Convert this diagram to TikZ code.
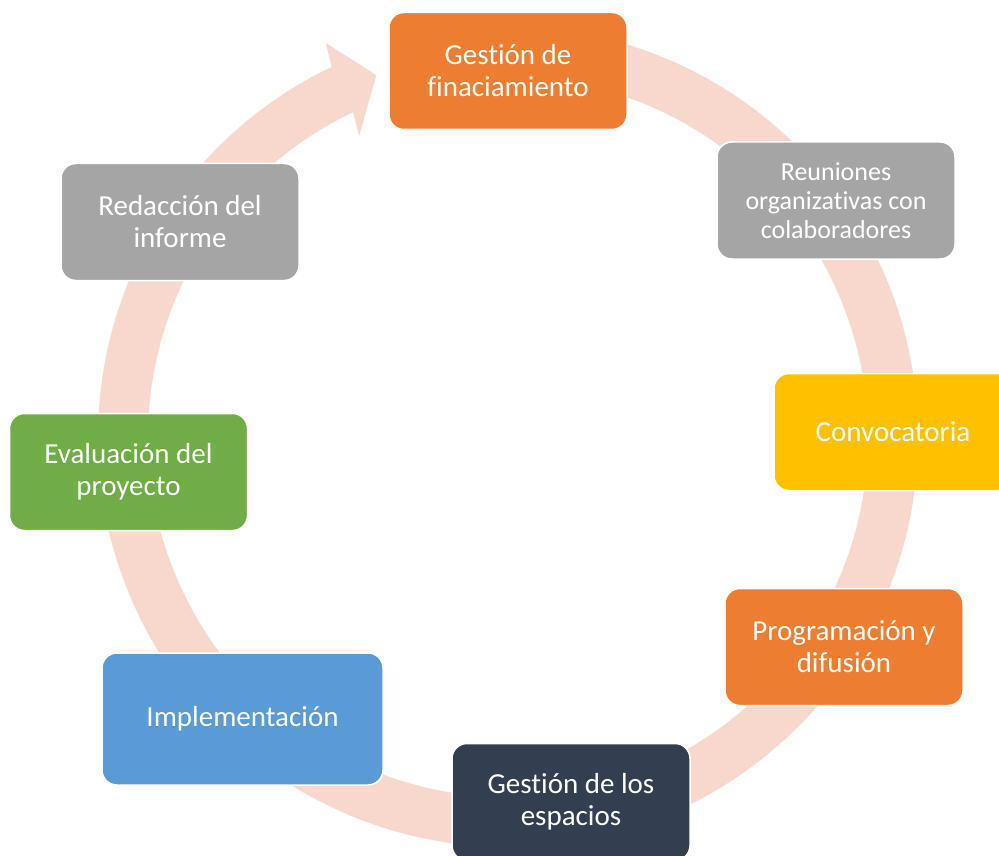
\documentclass[tikz,border=0pt]{standalone}
\usepackage{fontspec}
\setmainfont{Carlito}[Ligatures={NoCommon,NoContextual}]
\definecolor{ringc}{HTML}{F8D8CD}
\definecolor{corange}{HTML}{ED7D31}
\definecolor{cgray}{HTML}{A5A5A5}
\definecolor{cyellow}{HTML}{FFC000}
\definecolor{cnavy}{HTML}{333F50}
\definecolor{cblue}{HTML}{5B9BD5}
\definecolor{cgreen}{HTML}{70AD47}
\tikzset{
  stepbox/.style={rectangle, rounded corners=15pt, draw=white, line width=1.5pt,
    minimum width=238pt, minimum height=117pt, inner sep=0pt, align=center,
    text=white, font=\fontsize{29}{32}\selectfont},
}
\begin{document}
\begin{tikzpicture}[x=1pt,y=-1pt]
\useasboundingbox (0,0) rectangle (999,856);
\clip (0,0) rectangle (999,856);
\fill[white] (0,0) rectangle (999,856);
\begin{scope}[shift={(508,437)}, yscale=-1]
  \fill[ringc] (90:410) arc[start angle=90, end angle=-244.5, radius=410]
    -- (114.8:434) -- (110:385) -- (116.3:336) -- (-244.5:360)
    arc[start angle=-244.5, end angle=90, radius=360] -- cycle;
\end{scope}
\node[stepbox, fill=corange] (gf) at (508,71) {Gestión de\\finaciamiento};
\node[stepbox, fill=cgray, font=\fontsize{26}{29}\selectfont] (ro) at (836,200.5) {Reuniones\\organizativas con\\colaboradores};
\node[stepbox, fill=cyellow] (cv) at (893,432) {Convocatoria};
\node[stepbox, fill=corange] (pd) at (844,647) {Programación y\\difusión};
\node[stepbox, fill=cnavy] (ge) at (571,802) {Gestión de los\\espacios};
\node[stepbox, fill=cblue, minimum width=281pt, minimum height=132pt] (im) at (242.5,719) {Implementación};
\node[stepbox, fill=cgreen] (ev) at (128.5,472) {Evaluación del\\proyecto};
\node[stepbox, fill=cgray] (ri) at (180,222) {Redacción del\\informe};
\end{tikzpicture}
\end{document}
